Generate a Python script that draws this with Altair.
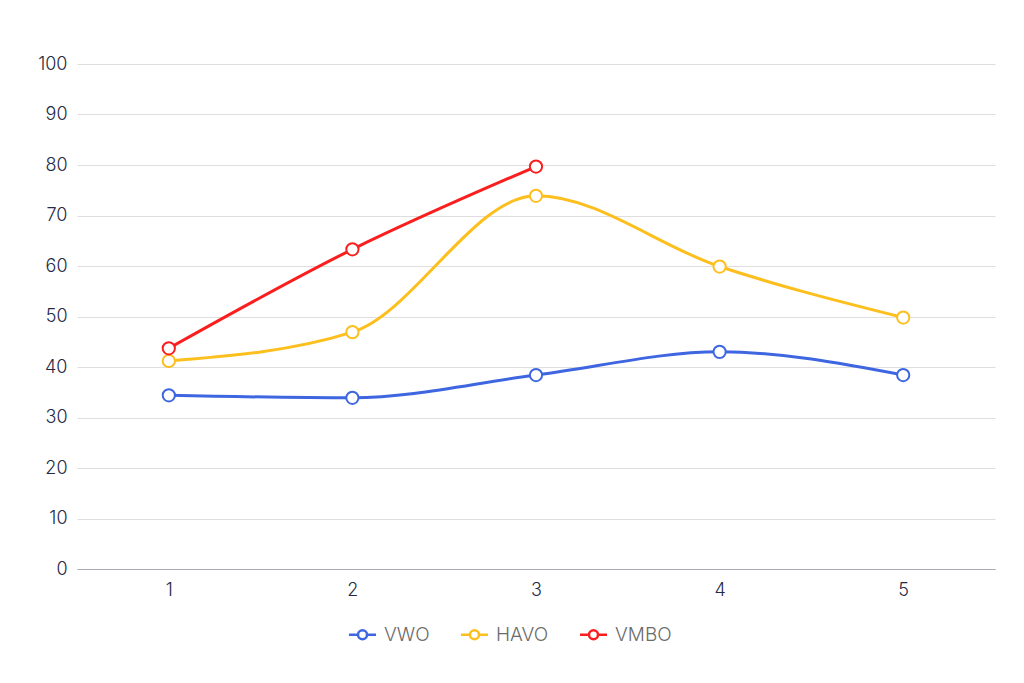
import altair as alt
import pandas as pd

categories = ["1", "2", "3", "4", "5"]
vwo = [34.4, 33.9, 38.4, 43.0, 38.4]
havo = [41.2, 46.9, 73.9, 59.9, 49.8]
vmbo = [43.7, 63.3, 79.7]

series_names = ["VWO", "HAVO", "VMBO"]
series_colors = ["#3d66e0", "#fdbf1e", "#fb1e1e"]

rows = []
for name, vals in zip(series_names, [vwo, havo, vmbo]):
    for c, v in zip(categories, vals):
        rows.append({"x": c, "value": v, "series": name})
df = pd.DataFrame(rows)

font = "Inter"
sym = "M-1.5,0H-0.5M0.5,0H1.5M-0.5,0A0.5,0.5 0 1,0 0.5,0A0.5,0.5 0 1,0 -0.5,0Z"

color = alt.Color(
    "series:N",
    scale=alt.Scale(domain=series_names, range=series_colors),
    legend=alt.Legend(
        title=None,
        orient="none",
        legendX=275,
        legendY=560,
        direction="horizontal",
        symbolType=sym,
        symbolSize=324,
        symbolStrokeWidth=2.5,
        symbolFillColor="white",
        labelFont=font,
        labelFontSize=19,
        labelFontWeight=300,
        labelColor="#6b6b6b",
        labelOffset=11,
        columnPadding=26,
    ),
)

x = alt.X(
    "x:O",
    sort=categories,
    scale=alt.Scale(type="point", padding=0.5),
    axis=alt.Axis(
        title=None,
        labelAngle=0,
        labelFont=font,
        labelFontSize=18,
        labelFontWeight=300,
        labelColor="#252a45",
        labelPadding=12,
        ticks=False,
        domainColor="#a9a9b3",
        domainWidth=1.2,
        grid=False,
    ),
)
y = alt.Y(
    "value:Q",
    scale=alt.Scale(domain=[0, 100], nice=False),
    axis=alt.Axis(
        title=None,
        values=list(range(0, 101, 10)),
        labelFont=font,
        labelFontSize=18,
        labelFontWeight=300,
        labelColor="#252a45",
        labelPadding=10,
        ticks=False,
        domain=False,
        gridColor="#dedede",
        gridWidth=1.2,
    ),
)

base = alt.Chart(df).encode(x=x, y=y, stroke=color)
lines = base.mark_line(interpolate="monotone", strokeWidth=3)
points = base.mark_point(filled=True, fill="white", size=150, strokeWidth=2, opacity=1)

chart = (
    alt.layer(lines, points)
    .properties(
        width=918,
        height=505,
        background="white",
        autosize=alt.AutoSizeParams(type="none"),
        padding={"left": 69, "top": 56, "right": 21, "bottom": 106},
    )
    .configure_view(strokeWidth=0)
)

chart.save("out.html", embed_options={"renderer": "svg", "actions": False})
